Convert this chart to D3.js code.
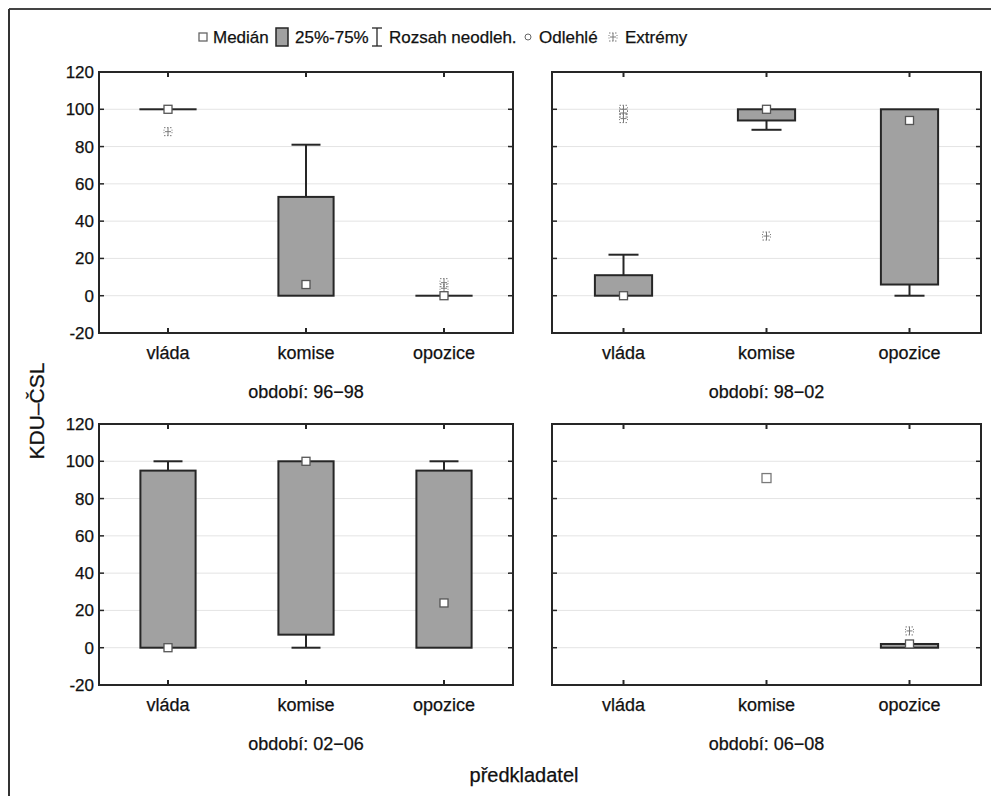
<!DOCTYPE html>
<html>
<head>
<meta charset="utf-8">
<script src="https://cdn.jsdelivr.net/npm/d3@7"></script>
<style>
  html, body { margin: 0; padding: 0; background: #fff; }
  svg { display: block; font-family: "Liberation Sans", Arial, sans-serif; }
  svg text { stroke: #111; stroke-width: 0.25px; fill: #111; }
</style>
</head>
<body>
<script>
// Categories and panels
const categories = ["vláda", "komise", "opozice"];
const periods = ["96−98", "98−02", "02−06", "06−08"];
const yTicks = [-20, 0, 20, 40, 60, 80, 100, 120];

// Box statistics per period (rows) and category (columns); null = no data
const medians     = [[100, 6, 0], [0, 100, 94], [0, 100, 24], [null, 91, 2]];
const q1          = [[100, 0, 0], [0, 94, 6],   [0, 7, 0],    [null, null, 0]];
const q3          = [[100, 53, 0], [11, 100, 100], [95, 100, 95], [null, null, 2]];
const whiskerLow  = [[100, 0, 0], [0, 89, 0],   [0, 0, 0],    [null, null, 0]];
const whiskerHigh = [[100, 81, 0], [22, 100, 100], [100, 100, 100], [null, null, 2]];
const extremes    = [[[88], [], [4, 7]], [[95, 98, 100], [32], []], [[], [], []], [[], [], [9]]];

const legendLabels = ["Medián", "25%-75%", "Rozsah neodleh.", "Odlehlé", "Extrémy"];

const W = 991, H = 796;
const svg = d3.select("body").append("svg").attr("width", W).attr("height", H);

// outer border (top and left edges)
svg.append("line").attr("x1", 9).attr("x2", W).attr("y1", 9).attr("y2", 9)
  .attr("stroke", "#444").attr("stroke-width", 2);
svg.append("line").attr("x1", 9).attr("x2", 9).attr("y1", 9).attr("y2", H)
  .attr("stroke", "#333").attr("stroke-width", 2);

const panelLayout = [
  {x0: 99, x1: 513, y0: 72, y1: 333, yLabels: true},
  {x0: 552, x1: 981, y0: 72, y1: 333, yLabels: false},
  {x0: 99, x1: 513, y0: 424, y1: 685, yLabels: true},
  {x0: 552, x1: 981, y0: 424, y1: 685, yLabels: false}
];

const boxFill = "#a1a1a1";
const ink = "#262626";

function drawExtreme(g, cx, cy) {
  const s = g.append("g").attr("transform", `translate(${cx},${cy})`)
    .attr("stroke", "#7a7a7a").attr("stroke-width", 1).attr("fill", "none");
  s.append("line").attr("x1", 0).attr("x2", 0).attr("y1", -4).attr("y2", 4);
  s.append("line").attr("x1", -4).attr("x2", 4).attr("y1", -4).attr("y2", -4).attr("stroke-dasharray", "1.5,1.5");
  s.append("line").attr("x1", -4).attr("x2", 4).attr("y1", 4).attr("y2", 4).attr("stroke-dasharray", "1.5,1.5");
  s.append("line").attr("x1", -3).attr("x2", 3).attr("y1", 0).attr("y2", 0);
  s.append("line").attr("x1", -4).attr("x2", -4).attr("y1", -2).attr("y2", 2).attr("stroke-dasharray", "1,1.5");
  s.append("line").attr("x1", 4).attr("x2", 4).attr("y1", -2).attr("y2", 2).attr("stroke-dasharray", "1,1.5");
}

function drawMedian(g, cx, cy, size, stroke) {
  g.append("rect").attr("x", cx - size / 2).attr("y", cy - size / 2)
    .attr("width", size).attr("height", size)
    .attr("fill", "#fff").attr("stroke", stroke).attr("stroke-width", 1.3);
}

const tickFmt = d => String(d); // plain hyphen-minus for negatives

panelLayout.forEach((p, pi) => {
  const g = svg.append("g");
  const y = d3.scaleLinear().domain([-20, 120]).range([p.y1, p.y0]);
  const x = d3.scaleBand().domain(categories).range([p.x0, p.x1]).padding(0);
  const bw = x.bandwidth() * 0.4;
  const cw = x.bandwidth() * 0.21;

  // gridlines
  g.selectAll(".grid").data(yTicks.filter(t => t > -20 && t < 120)).join("line")
    .attr("x1", p.x0).attr("x2", p.x1)
    .attr("y1", d => y(d)).attr("y2", d => y(d))
    .attr("stroke", "#e4e4e4").attr("stroke-width", 1);

  // inward ticks on all sides
  yTicks.forEach(t => {
    g.append("line").attr("x1", p.x0).attr("x2", p.x0 + 5).attr("y1", y(t)).attr("y2", y(t))
      .attr("stroke", ink).attr("stroke-width", 1.5);
    g.append("line").attr("x1", p.x1 - 5).attr("x2", p.x1).attr("y1", y(t)).attr("y2", y(t))
      .attr("stroke", ink).attr("stroke-width", 1.5);
  });
  categories.forEach(c => {
    const cx = x(c) + x.bandwidth() / 2;
    g.append("line").attr("x1", cx).attr("x2", cx).attr("y1", p.y0).attr("y2", p.y0 + 5)
      .attr("stroke", ink).attr("stroke-width", 2);
    g.append("line").attr("x1", cx).attr("x2", cx).attr("y1", p.y1 - 5).attr("y2", p.y1)
      .attr("stroke", ink).attr("stroke-width", 2);
  });

  // y tick labels
  if (p.yLabels) {
    const ax = g.append("g").attr("transform", `translate(${p.x0},0)`)
      .call(d3.axisLeft(y).tickValues(yTicks).tickSize(0).tickPadding(5).tickFormat(tickFmt));
    ax.select(".domain").remove();
    ax.selectAll("text").attr("font-size", 17)
      .attr("font-family", "Liberation Sans, Arial, sans-serif");
  }

  // category labels
  const bx = g.append("g").attr("transform", `translate(0,${p.y1})`)
    .call(d3.axisBottom(x).tickSize(0).tickPadding(13));
  bx.select(".domain").remove();
  bx.selectAll("text").attr("font-size", 18)
    .attr("font-family", "Liberation Sans, Arial, sans-serif");

  // period label
  g.append("text").attr("x", (p.x0 + p.x1) / 2).attr("y", p.y1 + 65)
    .attr("text-anchor", "middle").attr("font-size", 18)
    .text("období: " + periods[pi]);

  // boxes
  categories.forEach((c, ci) => {
    const cx = x(c) + x.bandwidth() / 2;
    const lo = q1[pi][ci], hi = q3[pi][ci];
    const wl = whiskerLow[pi][ci], wh = whiskerHigh[pi][ci];
    if (lo !== null && hi !== null) {
      // whiskers
      if (wh !== null && wh > hi) {
        g.append("line").attr("x1", cx).attr("x2", cx).attr("y1", y(hi)).attr("y2", y(wh))
          .attr("stroke", ink).attr("stroke-width", 2);
        g.append("line").attr("x1", cx - cw / 2).attr("x2", cx + cw / 2).attr("y1", y(wh)).attr("y2", y(wh))
          .attr("stroke", ink).attr("stroke-width", 2);
      }
      if (wl !== null && wl < lo) {
        g.append("line").attr("x1", cx).attr("x2", cx).attr("y1", y(lo)).attr("y2", y(wl))
          .attr("stroke", ink).attr("stroke-width", 2);
        g.append("line").attr("x1", cx - cw / 2).attr("x2", cx + cw / 2).attr("y1", y(wl)).attr("y2", y(wl))
          .attr("stroke", ink).attr("stroke-width", 2);
      }
      g.append("rect").attr("x", cx - bw / 2).attr("y", y(hi))
        .attr("width", bw).attr("height", Math.max(0.01, y(lo) - y(hi)))
        .attr("fill", boxFill).attr("stroke", ink).attr("stroke-width", 2);
    }
    // extremes
    extremes[pi][ci].forEach(v => drawExtreme(g, cx, y(v)));
    // median
    const m = medians[pi][ci];
    if (m !== null) {
      const lone = (lo === null);
      drawMedian(g, cx, y(m), lone ? 9 : 8, lone ? "#7a7a7a" : "#555");
    }
  });

  // frame
  g.append("rect").attr("x", p.x0).attr("y", p.y0)
    .attr("width", p.x1 - p.x0).attr("height", p.y1 - p.y0)
    .attr("fill", "none").attr("stroke", ink).attr("stroke-width", 2);
});

// axis titles
svg.append("text").attr("transform", "translate(36,411) rotate(-90)")
  .attr("text-anchor", "middle").attr("dominant-baseline", "central")
  .attr("font-size", 21).text("KDU–ČSL");
svg.append("text").attr("x", 524).attr("y", 782)
  .attr("text-anchor", "middle").attr("font-size", 20).text("předkladatel");

// legend
const ly = 37;
const leg = svg.append("g").attr("font-size", 17);
const itemX = [203, 282, 377, 528, 613];
const textX = [213, 295, 389, 539, 625];
drawMedian(leg, itemX[0], ly, 8, "#666");
leg.append("rect").attr("x", itemX[1] - 6).attr("y", ly - 9).attr("width", 12).attr("height", 18)
  .attr("fill", boxFill).attr("stroke", ink).attr("stroke-width", 1.5);
const ib = leg.append("g").attr("stroke", ink).attr("stroke-width", 1.3);
ib.append("line").attr("x1", itemX[2]).attr("x2", itemX[2]).attr("y1", ly - 9).attr("y2", ly + 9);
ib.append("line").attr("x1", itemX[2] - 5).attr("x2", itemX[2] + 5).attr("y1", ly - 9).attr("y2", ly - 9);
ib.append("line").attr("x1", itemX[2] - 5).attr("x2", itemX[2] + 5).attr("y1", ly + 9).attr("y2", ly + 9);
leg.append("circle").attr("cx", itemX[3]).attr("cy", ly).attr("r", 3)
  .attr("fill", "#fff").attr("stroke", "#666").attr("stroke-width", 1);
drawExtreme(leg, itemX[4], ly);
legendLabels.forEach((t, i) => {
  leg.append("text").attr("x", textX[i]).attr("y", ly).attr("dominant-baseline", "central").text(t);
});
</script>
</body>
</html>
